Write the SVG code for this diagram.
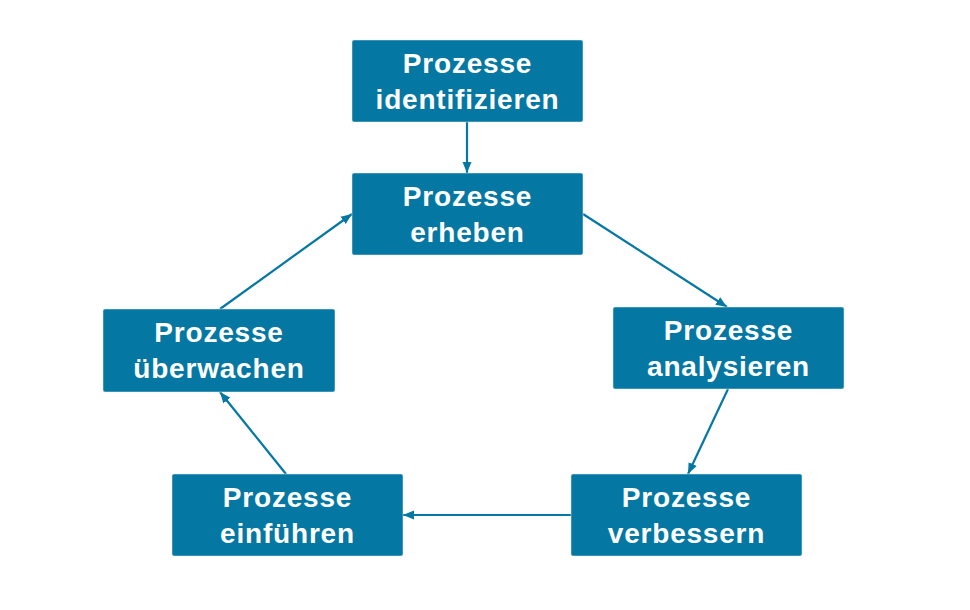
<svg xmlns="http://www.w3.org/2000/svg" width="970" height="610" viewBox="0 0 970 610">
<defs>
<style>
.box{fill:#0478A2;stroke:#e6eef2;stroke-width:0.5}
.t{font-family:"Liberation Sans",Arial,sans-serif;font-weight:bold;font-size:28px;fill:#ffffff;text-anchor:middle;letter-spacing:0.8px}
.c{stroke:#0478A2;stroke-width:2.2;fill:none;marker-end:url(#ah)}
</style>
<marker id="ah" markerUnits="userSpaceOnUse" markerWidth="12" markerHeight="12" viewBox="0 0 12 12" refX="11" refY="6" orient="auto">
<path d="M0,1.5 L11,6 L0,10.5 Z" fill="#0478A2"/>
</marker>
</defs>
<rect width="970" height="610" fill="#ffffff"/>
<g id="connectors">
<line class="c" x1="467" y1="122" x2="467" y2="173"/>
<line class="c" x1="583" y1="214" x2="727" y2="307"/>
<line class="c" x1="728" y1="389" x2="688" y2="474"/>
<line class="c" x1="571" y1="515" x2="403" y2="515"/>
<line class="c" x1="286" y1="474" x2="220" y2="392"/>
<line class="c" x1="220" y1="309" x2="352" y2="214"/>
</g>
<g id="n1">
<rect class="box" x="352" y="40" width="231" height="82" rx="2"/>
<text class="t" x="467.5" y="73">Prozesse</text>
<text class="t" x="467.5" y="109">identifizieren</text>
</g>
<g id="n2">
<rect class="box" x="352" y="173" width="231" height="82" rx="2"/>
<text class="t" x="467.5" y="206">Prozesse</text>
<text class="t" x="467.5" y="242">erheben</text>
</g>
<g id="n3">
<rect class="box" x="613" y="307" width="231" height="82" rx="2"/>
<text class="t" x="728.5" y="340">Prozesse</text>
<text class="t" x="728.5" y="376">analysieren</text>
</g>
<g id="n4">
<rect class="box" x="571" y="474" width="231" height="82" rx="2"/>
<text class="t" x="686.5" y="507">Prozesse</text>
<text class="t" x="686.5" y="543">verbessern</text>
</g>
<g id="n5">
<rect class="box" x="172" y="474" width="231" height="82" rx="2"/>
<text class="t" x="287.5" y="507">Prozesse</text>
<text class="t" x="287.5" y="543">einführen</text>
</g>
<g id="n6">
<rect class="box" x="103" y="309" width="232" height="83" rx="2"/>
<text class="t" x="219" y="342">Prozesse</text>
<text class="t" x="219" y="378">überwachen</text>
</g>
</svg>
